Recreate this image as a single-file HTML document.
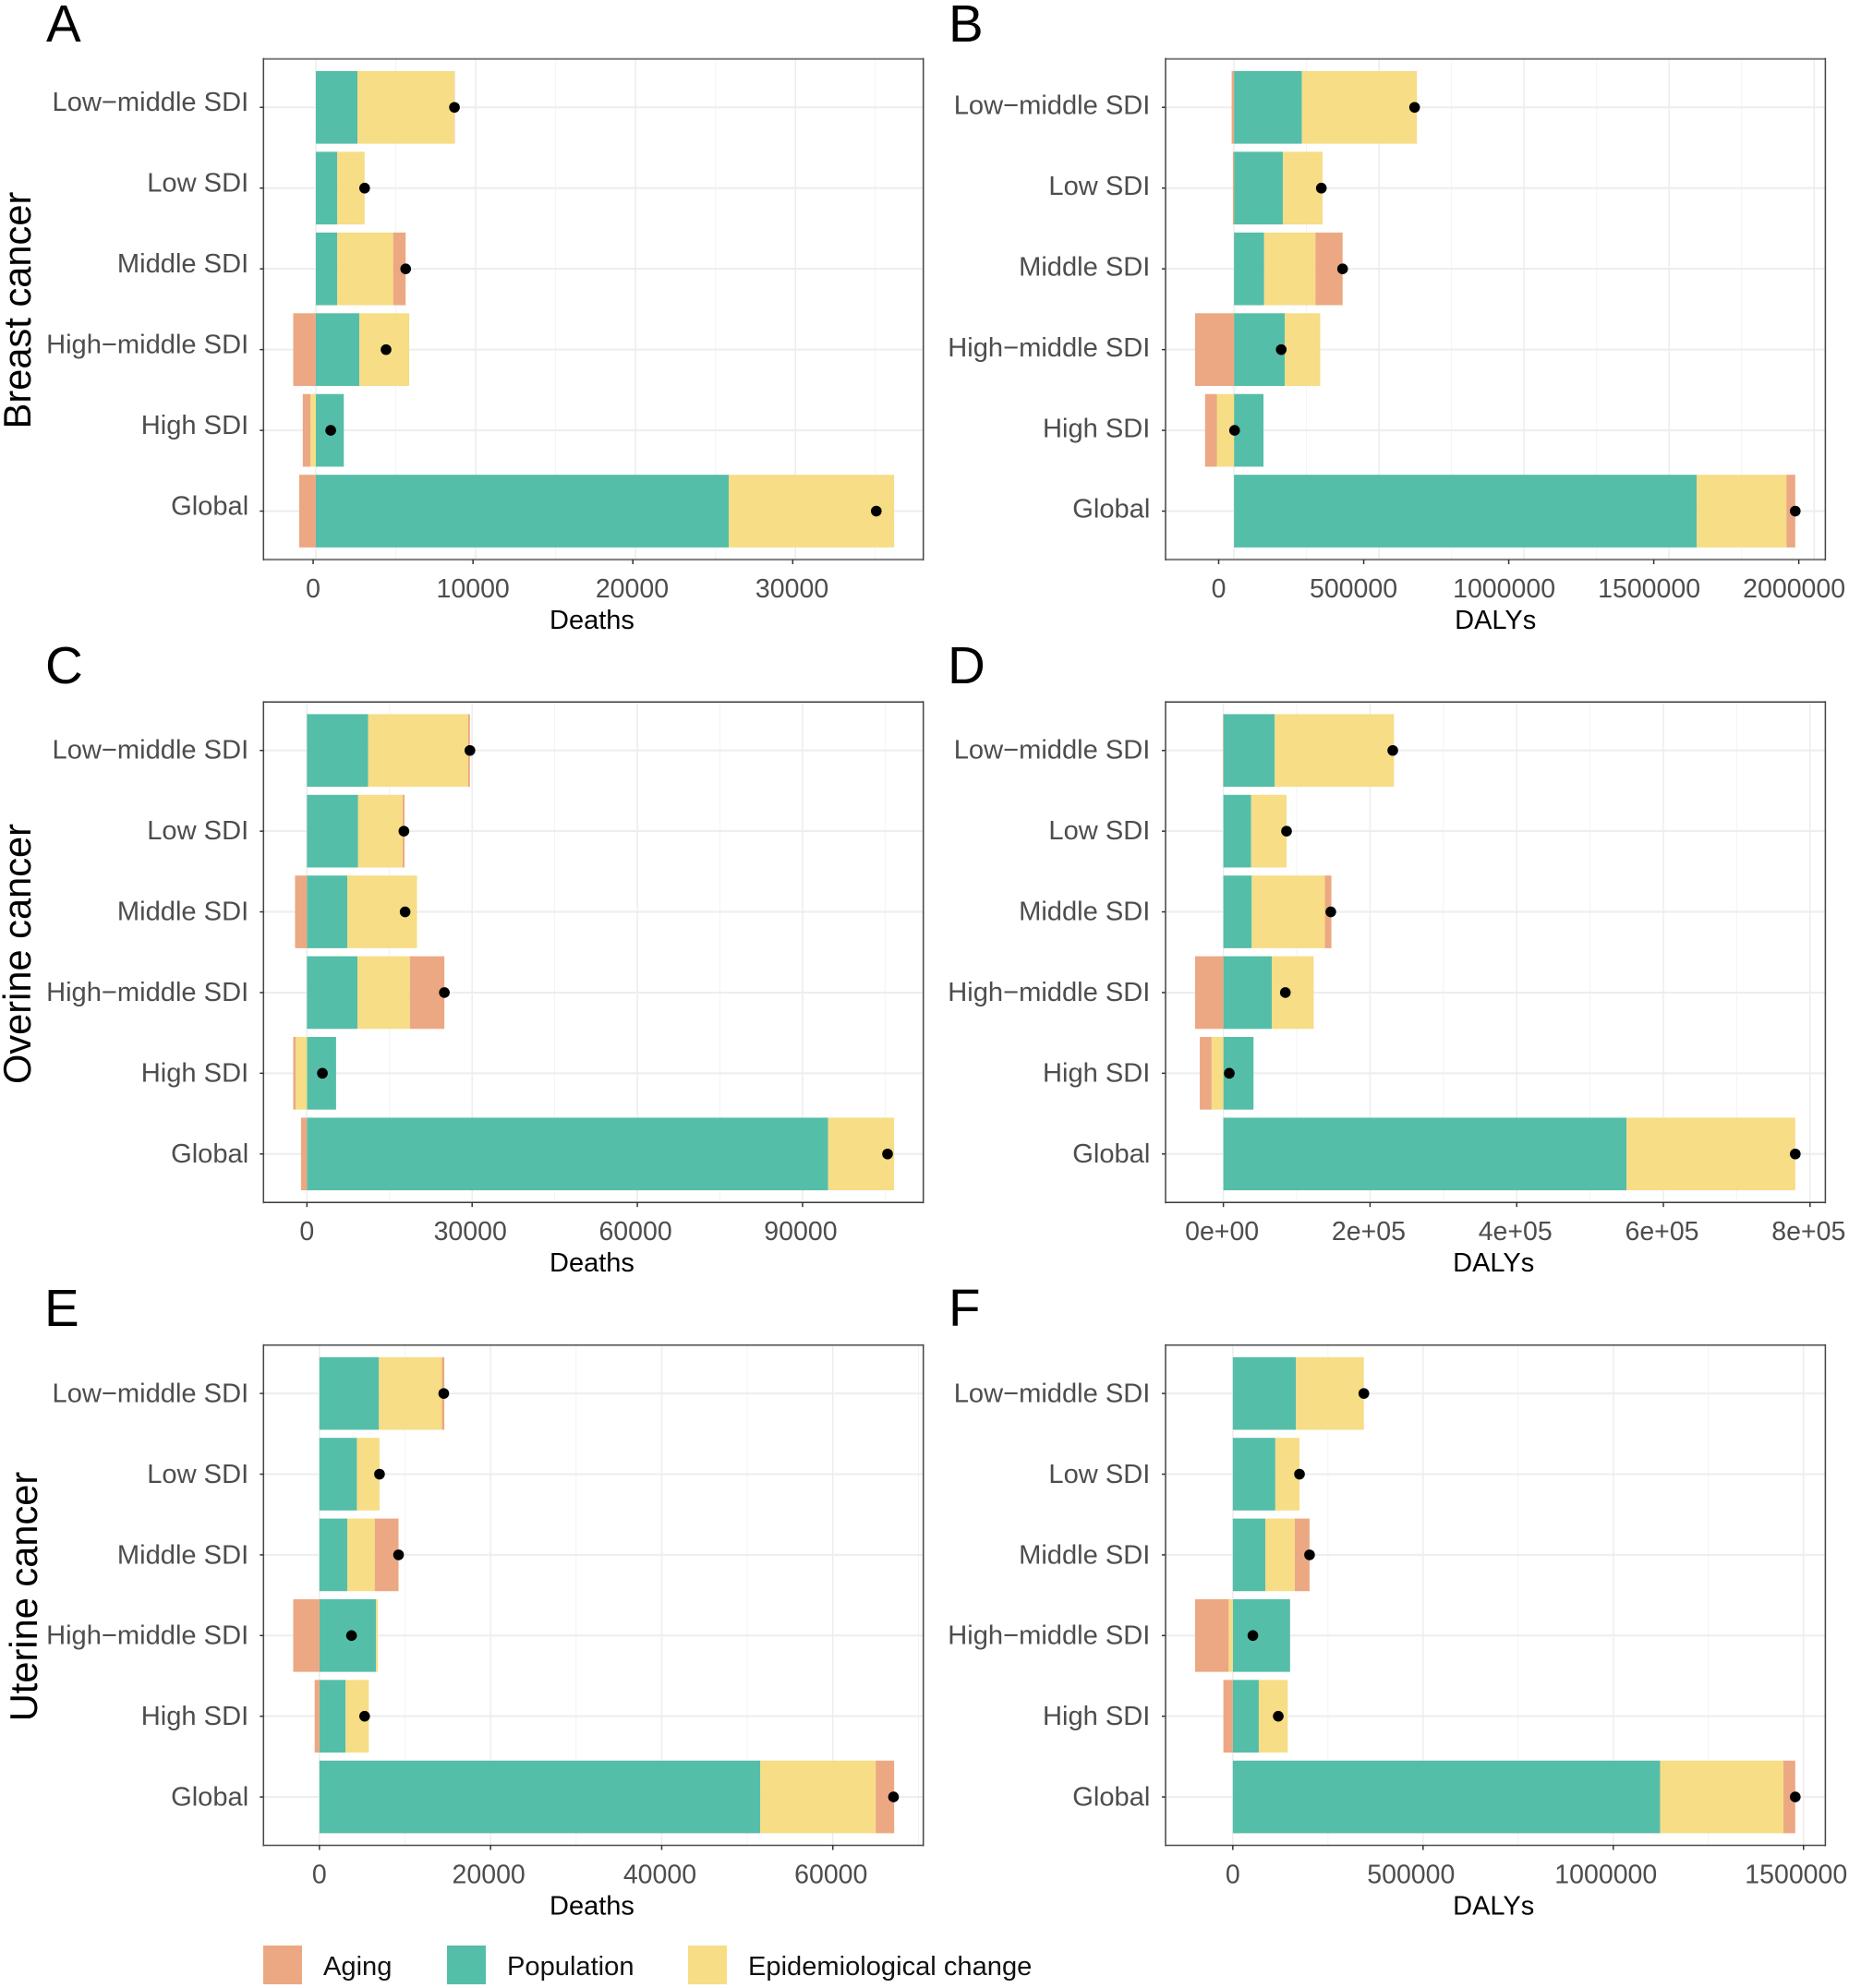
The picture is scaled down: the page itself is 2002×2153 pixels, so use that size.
<!DOCTYPE html>
<html lang="en">
<head>
<meta charset="utf-8">
<title>Decomposition of cancer burden by SDI</title>
<style>
html,body{margin:0;padding:0;background:#fff;width:2002px;height:2153px;overflow:hidden}
svg{display:block}
text{font-family:"Liberation Sans",Arial,sans-serif}
</style>
</head>
<body>
<svg id="figure" xmlns="http://www.w3.org/2000/svg" width="2002" height="2153" viewBox="0 0 2002 2153">
  <rect x="0" y="0" width="2002" height="2153" fill="#ffffff"/>
  <g id="panels"></g>
  <g font-size="56.5" fill="#000000">
    <text x="50" y="45">A</text>
    <text x="1027" y="45">B</text>
    <text x="49" y="740">C</text>
    <text x="1026" y="740">D</text>
    <text x="48" y="1436">E</text>
    <text x="1027" y="1436">F</text>
  </g>
  <g font-size="41.6" fill="#000000" text-anchor="middle">
    <text transform="translate(33,336) rotate(-90)">Breast cancer</text>
    <text transform="translate(33,1033) rotate(-90)">Overine cancer</text>
    <text transform="translate(40,1729) rotate(-90)">Uterine cancer</text>
  </g>
  <g font-size="29.1" fill="#111111">
    <rect x="285" y="2107" width="42" height="42" fill="#ECA882"/>
    <text x="350" y="2139">Aging</text>
    <rect x="484" y="2107" width="42" height="42" fill="#55BEA8"/>
    <text x="549" y="2139">Population</text>
    <rect x="745" y="2107" width="42" height="42" fill="#F6DD86"/>
    <text x="810" y="2139">Epidemiological change</text>
  </g>
</svg>
<script>
const categories = ['Low\u2212middle SDI', 'Low SDI', 'Middle SDI', 'High\u2212middle SDI', 'High SDI', 'Global'];

const agingA = [20, 0, 781, -1414, -484, -1042];
const populationA = [2605, 1340, 1340, 2717, 1749, 25828];
const epiA = [6066, 1712, 3498, 3126, -335, 10346];
const netA = [8672, 3052, 5620, 4392, 931, 35057];
const ticksA = [0, 10000, 20000, 30000];
const tickLabelsA = ['0', '10000', '20000', '30000'];
const domainA = [-3274, 37998];

const agingB = [-8100, -4000, 93600, -134300, -40700, 30500];
const populationB = [233980, 168900, 103800, 175000, 101700, 1595100];
const epiB = [396700, 136300, 177000, 122100, -59000, 309300];
const netB = [622600, 301100, 374400, 162800, 2000, 1934900];
const ticksB = [0, 500000, 1000000, 1500000, 2000000];
const tickLabelsB = ['0', '500000', '1000000', '1500000', '2000000'];
const domainB = [-236000, 2038700];

const agingC = [324, 324, -2161, 6266, -432, -1080];
const populationC = [11128, 9291, 7347, 9183, 5294, 94640];
const epiC = [18150, 8103, 12640, 9507, -2053, 11990];
const netC = [29600, 17610, 17830, 24960, 2810, 105440];
const ticksC = [0, 30000, 60000, 90000];
const tickLabelsC = ['0', '30000', '60000', '90000'];
const domainC = [-7887, 111930];

const agingD = [-500, 0, 8850, -38630, -16100, 0];
const populationD = [70020, 37830, 38630, 65990, 41050, 549700];
const epiD = [162570, 48290, 99800, 57140, -16100, 230180];
const netD = [230990, 86120, 146480, 84500, 8050, 779880];
const ticksD = [0, 200000, 400000, 600000, 800000];
const tickLabelsD = ['0e+00', '2e+05', '4e+05', '6e+05', '8e+05'];
const domainD = [-78870, 820900];

const agingE = [278, 0, 2781, -3059, -556, 2155];
const populationE = [6953, 4380, 3268, 6605, 3059, 51520];
const epiE = [7370, 2642, 3198, 209, 2712, 13490];
const netE = [14530, 7022, 9247, 3754, 5284, 67090];
const ticksE = [0, 20000, 40000, 60000];
const tickLabelsE = ['0', '20000', '40000', '60000'];
const domainE = [-6535, 70570];

const agingF = [0, 0, 38780, -88420, -24820, 31020];
const populationF = [165980, 111690, 85320, 150470, 68250, 1123060];
const epiF = [178390, 63600, 77560, -10860, 76010, 324200];
const netF = [344360, 175280, 201650, 52740, 119440, 1478260];
const ticksF = [0, 500000, 1000000, 1500000];
const tickLabelsF = ['0', '500000', '1000000', '1500000'];
const domainF = [-176830, 1557400];

const NS = 'http://www.w3.org/2000/svg';
const colors = { aging: '#ECA882', population: '#55BEA8', epi: '#F6DD86' };
const columns = [{ left: 285.3, right: 999.7, labelX: 269.2 }, { left: 1262, right: 1976.4, labelX: 1245.4 }];
const rows = [
  { top: 63.8, bottom: 606, edgeColor: '#858585', edgeWidth: 2.2 },
  { top: 760.3, bottom: 1302.2, edgeColor: '#3a3a3a', edgeWidth: 1.5 },
  { top: 1456.7, bottom: 1998.5, edgeColor: '#4a4a4a', edgeWidth: 1.5 }
];
const panels = [
  { id: 'a', col: 0, row: 0, title: 'Deaths', aging: agingA, population: populationA, epi: epiA, net: netA, ticks: ticksA, tickLabels: tickLabelsA, domain: domainA, tickShift: -2.9, labelShift: -6.2, nudgeFirst: 0, nudgeSecond: 0, nudgeRest: -0.8, titleNudge: -1.5 },
  { id: 'b', col: 1, row: 0, title: 'DALYs', aging: agingB, population: populationB, epi: epiB, net: netB, ticks: ticksB, tickLabels: tickLabelsB, domain: domainB, tickShift: -16.6, labelShift: -2.8, nudgeFirst: 0, nudgeSecond: -11, nudgeRest: -5, titleNudge: 0 },
  { id: 'c', col: 0, row: 1, title: 'Deaths', aging: agingC, population: populationC, epi: epiC, net: netC, ticks: ticksC, tickLabels: tickLabelsC, domain: domainC, tickShift: 0, labelShift: -1, nudgeFirst: 0, nudgeSecond: -2, nudgeRest: -2, titleNudge: -1.5 },
  { id: 'd', col: 1, row: 1, title: 'DALYs', aging: agingD, population: populationD, epi: epiD, net: netD, ticks: ticksD, tickLabels: tickLabelsD, domain: domainD, tickShift: 0, labelShift: -1, nudgeFirst: -1.5, nudgeSecond: -1.5, nudgeRest: -1.5, titleNudge: -2 },
  { id: 'e', col: 0, row: 2, title: 'Deaths', aging: agingE, population: populationE, epi: epiE, net: netE, ticks: ticksE, tickLabels: tickLabelsE, domain: domainE, tickShift: 0, labelShift: -0.6, nudgeFirst: 0, nudgeSecond: -2, nudgeRest: -2, titleNudge: -1.5 },
  { id: 'f', col: 1, row: 2, title: 'DALYs', aging: agingF, population: populationF, epi: epiF, net: netF, ticks: ticksF, tickLabels: tickLabelsF, domain: domainF, tickShift: 0, labelShift: -0.6, nudgeFirst: 0, nudgeSecond: -13, nudgeRest: -8, titleNudge: -2 }
];

function svgEl(tag, attrs, parent) {
  const el = document.createElementNS(NS, tag);
  for (const key in attrs) el.setAttribute(key, attrs[key]);
  parent.appendChild(el);
  return el;
}

function drawPanel(p) {
  const col = columns[p.col];
  const row = rows[p.row];
  const root = document.getElementById('panels');
  const g = svgEl('g', {}, root);
  
  

  const xScale = v => col.left + (v - p.domain[0]) / (p.domain[1] - p.domain[0]) * (col.right - col.left);
  const band = (row.bottom - row.top) / (categories.length - 1 + 1.2);
  const yScale = i => row.top + band * (0.6 + i);

  // Minor grid: midpoints between the major ticks
  const step = p.ticks[1] - p.ticks[0];
  for (let v = p.ticks[0] - step / 2; v <= p.domain[1]; v += step) {
    if (v < p.domain[0]) continue;
    const minor = svgEl('line', { x1: xScale(v), x2: xScale(v), y1: row.top, y2: row.bottom, stroke: '#f3f3f3', 'stroke-width': 1 }, g);
    
    
  }
  // Major vertical grid
  p.ticks.forEach(v => {
    const major = svgEl('line', { x1: xScale(v), x2: xScale(v), y1: row.top, y2: row.bottom, stroke: '#ededed', 'stroke-width': 1.5 }, g);
    
    
  });
  // Horizontal grid, ticks and category labels
  categories.forEach((name, i) => {
    const y = yScale(i);
    const grid = svgEl('line', { x1: col.left, x2: col.right, y1: y, y2: y, stroke: '#ededed', 'stroke-width': 2 }, g);
    
    
    const tick = svgEl('line', { x1: col.left - 4, x2: col.left, y1: y, y2: y, stroke: '#333333', 'stroke-width': 1.5 }, g);
    
    
    const label = svgEl('text', { x: col.labelX, y: y + 10 + p.labelShift, 'text-anchor': 'end', 'font-size': 29.1, fill: '#4d4d4d' }, g);
    label.textContent = name;
    
    
  });

  // Stacked bars: population, then epidemiological change, then aging, outwards from zero
  categories.forEach((name, i) => {
    const y = yScale(i);
    let pos = 0;
    let neg = 0;
    [['population', p.population[i]], ['epi', p.epi[i]], ['aging', p.aging[i]]].forEach(([key, value]) => {
      if (!value) return;
      const start = value > 0 ? pos : neg + value;
      const end = value > 0 ? pos + value : neg;
      if (value > 0) pos += value; else neg += value;
      const bar = svgEl('rect', { x: xScale(start), y: y - band * 0.45, width: xScale(end) - xScale(start), height: band * 0.9, fill: colors[key] }, g);
      
      
    });
  });

  // Net change points
  categories.forEach((name, i) => {
    const dot = svgEl('circle', { cx: xScale(p.net[i]), cy: yScale(i), r: 5.8, fill: '#000000' }, g);
    
    
  });

  // Panel border: horizontal edges use the row style, vertical edges stay thin and dark
  [row.top, row.bottom].forEach(y => {
    const edge = svgEl('line', { x1: col.left, x2: col.right, y1: y, y2: y, stroke: row.edgeColor, 'stroke-width': row.edgeWidth }, g);
    
    
  });
  [col.left, col.right].forEach(x => {
    const edge = svgEl('line', { x1: x, x2: x, y1: row.top - 1, y2: row.bottom + 1, stroke: '#444444', 'stroke-width': 1.5 }, g);
    
    
  });

  // X axis ticks and labels
  p.ticks.forEach((v, i) => {
    const x = xScale(v) + p.tickShift;
    const nudge = i === 0 ? p.nudgeFirst : (i === 1 ? p.nudgeSecond : p.nudgeRest);
    const tick = svgEl('line', { x1: x, x2: x, y1: row.bottom, y2: row.bottom + 5, stroke: '#333333', 'stroke-width': 1.5 }, g);
    
    
    const label = svgEl('text', { x: x + nudge, y: row.bottom + 41, 'text-anchor': 'middle', 'font-size': 28.5, fill: '#4d4d4d' }, g);
    label.textContent = p.tickLabels[i];
    
    
  });
  const title = svgEl('text', { x: (col.left + col.right) / 2 + p.titleNudge, y: row.bottom + 75, 'text-anchor': 'middle', 'font-size': 29, fill: '#000000' }, g);
  title.textContent = p.title;
  
  
}

panels.forEach(drawPanel);
</script>
</body>
</html>
